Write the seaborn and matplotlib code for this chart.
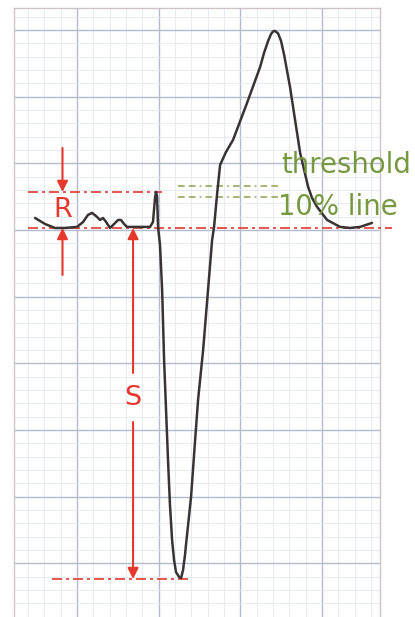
import matplotlib
matplotlib.use("Agg")
import matplotlib.pyplot as plt
from matplotlib.ticker import MultipleLocator
import seaborn as sns

# === Data (grid units: 1 = one small square, baseline at 0) ===
wave_x = [-2.57, -1.96, -1.35, -0.73, 0.00, 0.37, 0.67, 0.92, 1.16, 1.41, 1.59, 1.78,
          2.02, 2.27, 2.51, 2.69, 2.88, 3.06, 3.86, 4.47, 4.65, 4.78, 4.84, 4.90,
          4.96, 5.08, 5.21, 5.33, 5.45, 5.57, 5.69, 5.82, 5.94, 6.06, 6.25, 6.37,
          6.49, 6.61, 6.67, 6.98, 7.23, 7.41, 7.72, 8.02, 8.27, 8.39, 8.57, 8.76,
          9.12, 9.55, 10.41, 11.21, 11.45, 11.70, 11.88, 12.00, 12.12, 12.31, 12.49,
          12.68, 13.04, 13.35, 13.66, 14.15, 14.39, 14.70, 15.31, 16.11, 16.72,
          17.33, 18.06]
wave_y = [0.90, 0.45, 0.15, 0.15, 0.23, 0.60, 1.13, 1.28, 1.05, 0.75, 0.90, 0.60,
          0.15, 0.45, 0.75, 0.75, 0.45, 0.23, 0.23, 0.23, 0.60, 2.48, 2.85, 2.48,
          0.23, -1.13, -4.50, -9.75, -13.50, -17.25, -20.63, -23.26, -24.76, -25.66,
          -26.03, -26.11, -25.51, -24.38, -23.63, -20.03, -15.75, -12.75, -9.00,
          -4.50, -0.75, 0.23, 2.63, 4.88, 5.85, 6.75, 9.53, 12.23, 13.28, 14.18,
          14.70, 14.89, 14.93, 14.74, 14.18, 13.13, 10.73, 8.25, 5.78, 3.23, 2.40,
          1.73, 0.75, 0.23, 0.15, 0.23, 0.53]

baseline = 0.15
r_top = 2.85
s_bottom = -26.18
threshold_levels = [3.30, 2.48]

RED = "#e6382c"
GREEN = "#76983f"
INK = "#3a3333"
DASHDOT = (0, (6, 2.4, 1.8, 2.4))

sns.set_theme(style="white")
plt.rcParams["font.family"] = ["DejaVu Sans"]

fig = plt.figure(figsize=(4.15, 6.17), dpi=100)
ax = fig.add_axes([14 / 415, 0, 366 / 415, 609 / 617])

# === Grid paper ===
ax.set_xlim(-3.86, 18.55)
ax.set_ylim(-29.03, 16.65)
for axis in (ax.xaxis, ax.yaxis):
    axis.set_major_locator(MultipleLocator(5))
    axis.set_minor_locator(MultipleLocator(1))
ax.grid(which="major", color="#b3bbd0", lw=1.0)
ax.grid(which="minor", color="#e3e8f2", lw=0.6)
ax.tick_params(which="both", length=0, labelbottom=False, labelleft=False)
for side, sp in ax.spines.items():
    sp.set_color("#cfc4c4")
    sp.set_linewidth(1.0)
ax.spines["bottom"].set_visible(False)

# === Waveform ===
sns.lineplot(x=wave_x, y=wave_y, sort=False, estimator=None, color=INK, lw=1.8, ax=ax, zorder=4)

# === Red reference lines ===
ax.plot([-3.0, 5.2], [r_top, r_top], color=RED, lw=1.2, ls=DASHDOT, zorder=3)
ax.plot([-3.0, 19.3], [baseline, baseline], color=RED, lw=1.2, ls=DASHDOT, zorder=3, clip_on=False)
ax.plot([-1.53, 6.8], [s_bottom, s_bottom], color=RED, lw=1.2, ls=DASHDOT, zorder=3)

# === Green threshold lines ===
for lvl in threshold_levels:
    ax.plot([6.18, 12.31], [lvl, lvl], color="#93aa5c", lw=1.2,
            ls=(0, (4, 2.5, 4, 2.5, 1, 2.5)), zorder=3)

arrow = dict(arrowstyle="-|>", color=RED, lw=1.5, mutation_scale=16, shrinkA=0, shrinkB=0)

# R arrows
ax.annotate("", xy=(-0.89, r_top), xytext=(-0.89, 6.15), arrowprops=arrow, zorder=5)
ax.annotate("", xy=(-0.89, baseline), xytext=(-0.89, -3.38), arrowprops=arrow, zorder=5)
ax.text(-0.89, 1.5, "R", color=RED, fontsize=19.5, ha="center", va="center", zorder=5)

# S arrows
ax.annotate("", xy=(3.43, baseline), xytext=(3.43, -10.73), arrowprops=arrow, zorder=5)
ax.annotate("", xy=(3.43, s_bottom), xytext=(3.43, -14.4), arrowprops=arrow, zorder=5)
ax.text(3.43, -12.6, "S", color=RED, fontsize=19.5, ha="center", va="center", zorder=5)

# === Labels ===
ax.text(12.49, 4.28, "threshold", color=GREEN, fontsize=19.8, ha="left", va="baseline",
        clip_on=False, zorder=6)
ax.text(12.30, 1.13, "10% line", color=GREEN, fontsize=19.8, ha="left", va="baseline",
        clip_on=False, zorder=6)

fig.savefig("out.png", dpi=100)
